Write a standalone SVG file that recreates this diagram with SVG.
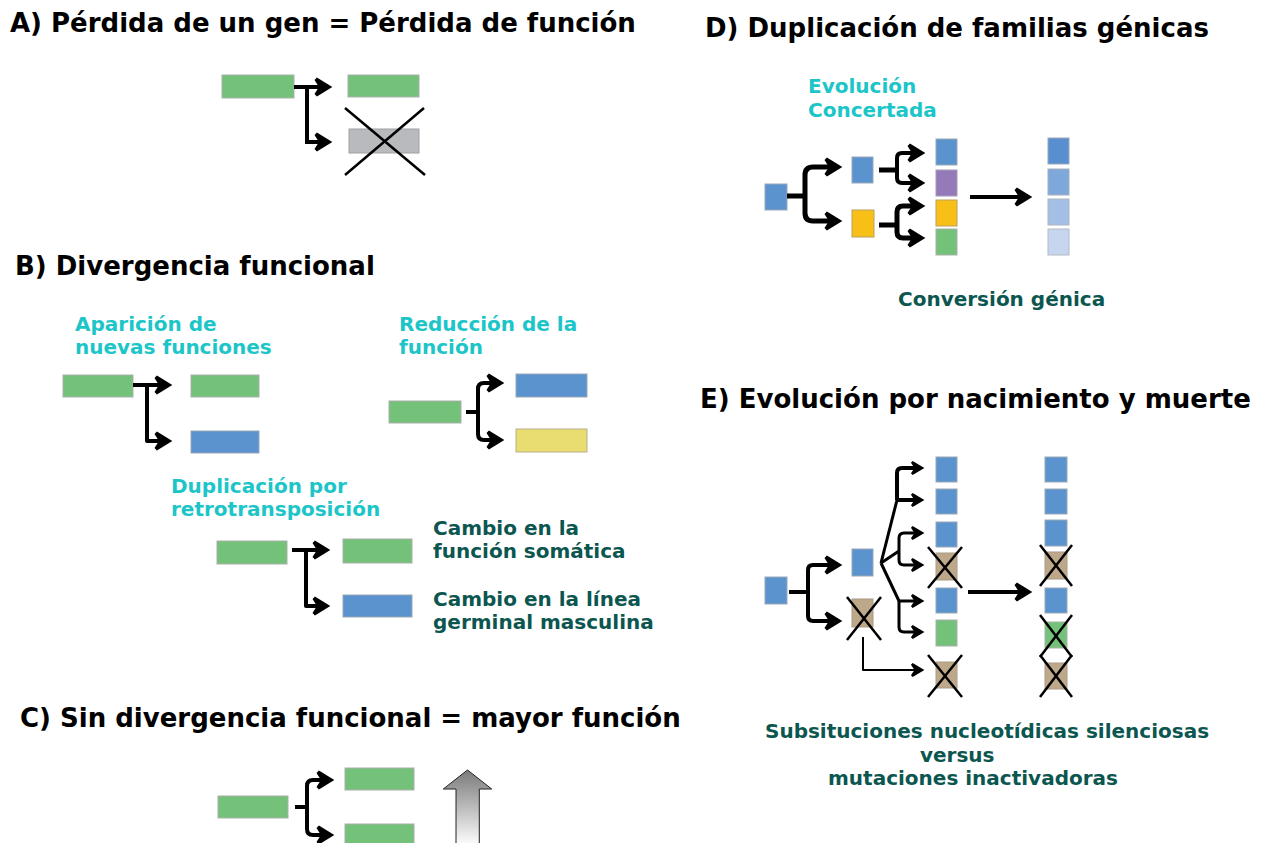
<svg xmlns="http://www.w3.org/2000/svg" width="1270" height="843" viewBox="0 0 1270 843">
<defs>
<style>
.t{font-family:"DejaVu Sans","Liberation Sans",sans-serif;font-weight:bold;font-size:26px;fill:#000}
.c{font-family:"DejaVu Sans","Liberation Sans",sans-serif;font-weight:bold;font-size:20px;fill:#1cc5c8}
.d{font-family:"DejaVu Sans","Liberation Sans",sans-serif;font-weight:bold;font-size:20px;fill:#0c5650}
.g{fill:#74c17a;stroke:#a9b0a9;stroke-width:1}
.b{fill:#5b93cf;stroke:#9aa7b5;stroke-width:1}
.gr{fill:#b9babe;stroke:#a0a0a4;stroke-width:1}
.y{fill:#e9dc70;stroke:#b8b08a;stroke-width:1}
.p{fill:#957ab9;stroke:#a89cb8;stroke-width:1}
.o{fill:#f8c016;stroke:#b9a060;stroke-width:1}
.br{fill:#bea88a;stroke:#a89a86;stroke-width:1}
.l1{fill:#5a8fcf;stroke:#9aa7b5;stroke-width:1}
.l2{fill:#7fa8da;stroke:#a5b0bd;stroke-width:1}
.l3{fill:#a4bfe5;stroke:#aeb7c2;stroke-width:1}
.l4{fill:#c6d6ef;stroke:#b4bbc4;stroke-width:1}
.k{fill:none;stroke:#000;stroke-width:4;stroke-linejoin:round}
.kt{fill:none;stroke:#000;stroke-width:5;stroke-linejoin:round}
.km{fill:none;stroke:#000;stroke-width:3;stroke-linejoin:round}
.kn{fill:none;stroke:#000;stroke-width:2;stroke-linejoin:round}
.x{stroke:#000;stroke-width:2.5;fill:none}
.big{marker-end:url(#ah)}
.sm{marker-end:url(#as)}
</style>
<marker id="ah" markerUnits="userSpaceOnUse" viewBox="0 0 22 22" markerWidth="22" markerHeight="22" refX="10" refY="11" orient="auto">
<path d="M3,3 L16,11 L3,19 L8,11 Z" fill="#000" stroke="#000" stroke-width="3.5" stroke-linejoin="miter"/>
</marker>
<marker id="as" markerUnits="userSpaceOnUse" viewBox="0 0 17 16" markerWidth="17" markerHeight="16" refX="8" refY="8" orient="auto">
<path d="M2,2 L12,8 L2,14 L6,8 Z" fill="#000" stroke="#000" stroke-width="2.5" stroke-linejoin="miter"/>
</marker>
<linearGradient id="ug" x1="0" y1="0" x2="0" y2="1">
<stop offset="0" stop-color="#7a7a7a"/>
<stop offset="1" stop-color="#ffffff"/>
</linearGradient>
</defs>
<rect width="1270" height="843" fill="#fff"/>

<!-- Titles -->
<g id="titles">
<text class="t" x="10" y="32">A) Pérdida de un gen = Pérdida de función</text>
<text class="t" x="15" y="275">B) Divergencia funcional</text>
<text class="t" x="20" y="727">C) Sin divergencia funcional = mayor función</text>
<text class="t" x="705" y="37">D) Duplicación de familias génicas</text>
<text class="t" x="700" y="408">E) Evolución por nacimiento y muerte</text>
</g>

<!-- Labels -->
<g id="labels">
<text class="c" x="75" y="331">Aparición de</text>
<text class="c" x="75" y="354">nuevas funciones</text>
<text class="c" x="399" y="331">Reducción de la</text>
<text class="c" x="399" y="354">función</text>
<text class="c" x="171" y="493">Duplicación por</text>
<text class="c" x="171" y="516">retrotransposición</text>
<text class="d" x="433" y="535">Cambio en la</text>
<text class="d" x="433" y="558">función somática</text>
<text class="d" x="433" y="606">Cambio en la línea</text>
<text class="d" x="433" y="629">germinal masculina</text>
<text class="c" x="808" y="93">Evolución</text>
<text class="c" x="808" y="117">Concertada</text>
<text class="d" x="898" y="306">Conversión génica</text>
<text class="d" x="765" y="738">Subsituciones nucleotídicas silenciosas</text>
<text class="d" x="920" y="762">versus</text>
<text class="d" x="828" y="785">mutaciones inactivadoras</text>
</g>

<!-- Section A nodes -->
<g id="A-source"><rect class="g" x="222" y="75" width="72" height="23"/></g>
<g id="A-copy"><rect class="g" x="348" y="75" width="71" height="22"/></g>
<g id="A-lost">
<rect class="gr" x="349" y="129" width="70" height="24"/>
<line class="x" x1="345" y1="108" x2="425" y2="175"/>
<line class="x" x1="424" y1="108" x2="345" y2="175"/>
</g>

<!-- Section B nodes -->
<g id="B1-source"><rect class="g" x="63" y="375" width="70" height="22"/></g>
<g id="B1-copy"><rect class="g" x="191" y="375" width="68" height="22"/></g>
<g id="B1-new"><rect class="b" x="191" y="431" width="68" height="22"/></g>
<g id="B2-source"><rect class="g" x="389" y="401" width="72" height="22"/></g>
<g id="B2-blue"><rect class="b" x="516" y="374" width="71" height="23"/></g>
<g id="B2-yellow"><rect class="y" x="516" y="429" width="71" height="23"/></g>
<g id="B3-source"><rect class="g" x="217" y="541" width="70" height="23"/></g>
<g id="B3-somatic"><rect class="g" x="343" y="539" width="69" height="24"/></g>
<g id="B3-germ"><rect class="b" x="343" y="595" width="69" height="22"/></g>

<!-- Section C nodes -->
<g id="C-source"><rect class="g" x="218" y="796" width="70" height="22"/></g>
<g id="C-copy1"><rect class="g" x="345" y="768" width="69" height="22"/></g>
<g id="C-copy2"><rect class="g" x="345" y="824" width="69" height="24"/></g>
<g id="C-up">
<polygon points="467.5,770 491.7,789 479.3,789 479.3,846 456,846 456,789 443.3,789" fill="url(#ug)" stroke="#222" stroke-width="1"/>
</g>

<!-- Section D nodes -->
<g id="D-root"><rect class="b" x="765" y="184" width="22" height="26"/></g>
<g id="D-mid1"><rect class="b" x="852" y="157" width="21" height="26"/></g>
<g id="D-mid2"><rect class="o" x="852" y="210" width="22" height="27"/></g>
<g id="D-col1">
<rect class="b" x="936" y="139" width="21" height="26"/>
<rect class="p" x="936" y="170" width="21" height="26"/>
<rect class="o" x="936" y="200" width="21" height="26"/>
<rect class="g" x="936" y="229" width="21" height="26"/>
</g>
<g id="D-col2">
<rect class="l1" x="1048" y="138" width="21" height="26"/>
<rect class="l2" x="1048" y="169" width="21" height="26"/>
<rect class="l3" x="1048" y="199" width="21" height="26"/>
<rect class="l4" x="1048" y="229" width="21" height="26"/>
</g>

<!-- Section E nodes -->
<g id="E-root"><rect class="b" x="765" y="577" width="22" height="27"/></g>
<g id="E-mid1"><rect class="b" x="852" y="549" width="21" height="27"/></g>
<g id="E-mid2">
<rect class="br" x="852" y="599" width="21" height="28"/>
<line class="x" x1="847" y1="597" x2="881" y2="640"/>
<line class="x" x1="881" y1="597" x2="847" y2="640"/>
</g>
<g id="E-col1">
<rect class="b" x="936" y="457" width="21" height="25"/>
<rect class="b" x="936" y="489" width="21" height="25"/>
<rect class="b" x="936" y="522" width="21" height="25"/>
<rect class="br" x="936" y="553" width="21" height="27"/>
<line class="x" x1="928" y1="547" x2="962" y2="588"/>
<line class="x" x1="962" y1="547" x2="928" y2="588"/>
<rect class="b" x="936" y="588" width="21" height="25"/>
<rect class="g" x="936" y="620" width="21" height="26"/>
<rect class="br" x="936" y="662" width="21" height="26"/>
<line class="x" x1="928" y1="655" x2="962" y2="697"/>
<line class="x" x1="962" y1="655" x2="928" y2="697"/>
</g>
<g id="E-col2">
<rect class="b" x="1045" y="457" width="22" height="25"/>
<rect class="b" x="1045" y="489" width="22" height="25"/>
<rect class="b" x="1045" y="520" width="22" height="26"/>
<rect class="br" x="1045" y="552" width="22" height="27"/>
<line class="x" x1="1040" y1="545" x2="1072" y2="586"/>
<line class="x" x1="1072" y1="545" x2="1040" y2="586"/>
<rect class="b" x="1045" y="588" width="22" height="25"/>
<rect class="g" x="1045" y="622" width="22" height="26"/>
<line class="x" x1="1040" y1="615" x2="1072" y2="657"/>
<line class="x" x1="1072" y1="615" x2="1040" y2="657"/>
<rect class="br" x="1045" y="663" width="22" height="26"/>
<line class="x" x1="1040" y1="655" x2="1072" y2="697"/>
<line class="x" x1="1072" y1="655" x2="1040" y2="697"/>
</g>

<!-- Connectors -->
<g id="connectors">
<!-- A -->
<path class="k big" style="stroke-linejoin:miter" d="M294,87 H323"/>
<path class="k big" style="stroke-linejoin:miter" d="M307,87 V142 H323"/>
<!-- B1 -->
<path class="k big" d="M133,385 H163"/>
<path class="k big" d="M147,385 V441 H163"/>
<!-- B2 -->
<path class="k" d="M466,412 H478"/>
<path class="k big" d="M478,412 V389 Q478,383 484,383 H495"/>
<path class="k big" d="M478,412 V434 Q478,440 484,440 H495"/>
<!-- B3 -->
<path class="k big" d="M292,550 H321"/>
<path class="k big" d="M306,550 V606 H321"/>
<!-- C -->
<path class="k" d="M295,807 H307"/>
<path class="k big" d="M307,807 V786 Q307,780 313,780 H325"/>
<path class="k big" d="M307,807 V829 Q307,835 313,835 H325"/>
<!-- D -->
<path class="kt" d="M787,196 H805"/>
<path class="kt big" d="M805,196 V175 Q805,167 813,167 H833"/>
<path class="kt big" d="M805,196 V213 Q805,221 813,221 H833"/>
<path class="kt" d="M879,170 H897"/>
<path class="k big" d="M897,170 V158 Q897,153 902,153 H916"/>
<path class="k big" d="M897,170 V178 Q897,183 902,183 H916"/>
<path class="kt" d="M879,225 H897"/>
<path class="kt big" d="M897,225 V212 Q897,206 903,206 H916"/>
<path class="kt big" d="M897,225 V232 Q897,238 903,238 H916"/>
<path class="k big" d="M970,197 H1023"/>
<!-- E -->
<path class="k" d="M789,592 H808"/>
<path class="k big" d="M808,592 V570 Q808,565 813,565 H833"/>
<path class="k big" d="M808,592 V616 Q808,621 813,621 H833"/>
<path class="km" d="M881,563 L897,500"/>
<path class="k sm" d="M897,500 V473 Q897,468 902,468 H918"/>
<path class="k sm" d="M897,500 H918"/>
<path class="km" d="M881,563 L899,551"/>
<path class="km sm" d="M899,551 V538 Q899,533 904,533 H918"/>
<path class="km sm" d="M899,551 V560 Q899,565 904,565 H918"/>
<path class="km" d="M881,563 L899,601"/>
<path class="km sm" d="M899,601 H918"/>
<path class="km sm" d="M899,601 V627 Q899,632 904,632 H918"/>
<path class="kn sm" d="M863,637 V670 H918"/>
<path class="k big" d="M968,592 H1023"/>
</g>
</svg>
